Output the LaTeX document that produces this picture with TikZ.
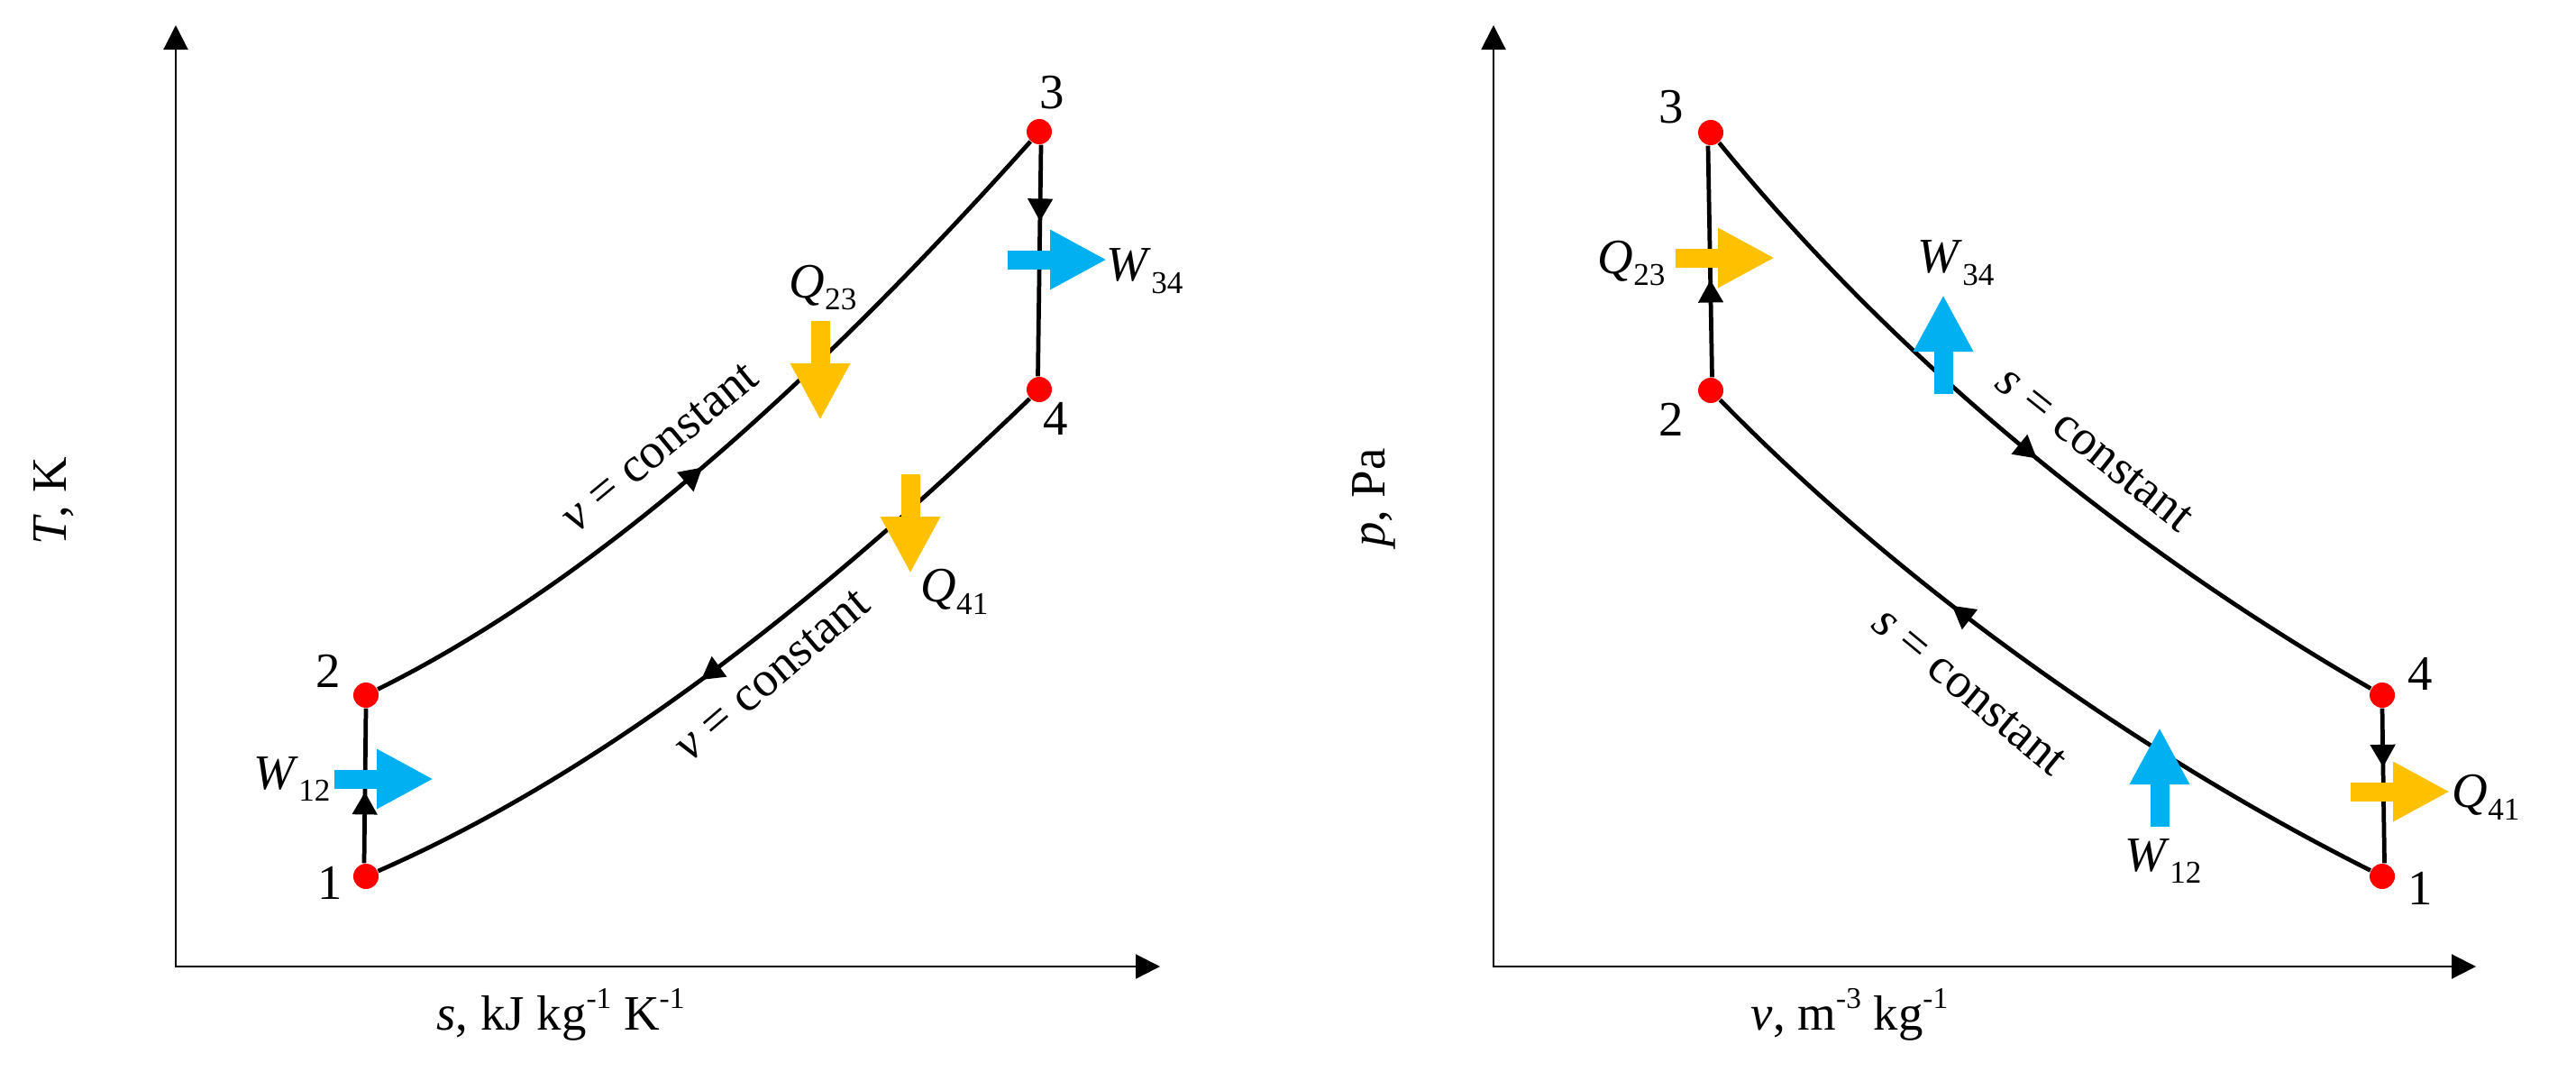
\documentclass[tikz,border=0pt]{standalone}
\usepackage{fontspec}
\setmainfont{Liberation Serif}
\usetikzlibrary{positioning,arrows.meta,decorations.markings}
\definecolor{workblue}{HTML}{00B0F0}
\definecolor{heatyellow}{HTML}{FFC000}
\newcommand{\subnum}[1]{\raisebox{-0.55ex}{\fontsize{10}{10}\selectfont #1}}
\newcommand{\supnum}[1]{\raisebox{0.95ex}{\fontsize{9.5}{10}\selectfont #1}}
\newcommand{\qty}[2]{\textit{#1}\subnum{#2}}
\begin{document}
\begin{tikzpicture}[on grid,
state/.style ={circle ,fill=red ,inner sep=0pt ,minimum width =0.28cm},
num/.style ={font=\fontsize{15.6}{18}\selectfont ,inner sep=0pt},
axis/.style ={line width=0.6pt ,{Triangle[length=0.27cm,width=0.27cm]}-{Triangle[length=0.27cm,width=0.27cm]}},
process/.style ={line width=1.35pt},
midarrow/.style ={postaction={decorate},decoration={markings,
 mark=at position #1 with {\arrow{Triangle[length=0.25cm,width=0.27cm]}}}},
flow/.style ={line width=0.21cm ,-{Triangle[length=0.63cm,width=0.62cm]}},
work/.style ={flow ,draw=workblue ,workblue},
heat/.style ={flow ,draw=heatyellow ,heatyellow}]
\useasboundingbox (0,0) rectangle (28.58,11.88);

% T-s diagram
\coordinate (Torigin) at (1.95,1.16);
\coordinate (Ttop) at (1.95,11.60);
\coordinate (Tright) at (12.87,1.16);
\draw[axis] (Ttop) -- (Torigin) -- (Tright);
\node[num] (Tlabel) [rotate=90] at (0.60,6.32) {\textit{T}, K};
\node[num] (slabel) at (6.22,0.63) {\textit{s}, kJ kg\supnum{-1} K\supnum{-1}};

\node[state] (A) at (4.06,2.16) {};
\node[state] (B) [above = 2.01cm of A] {};
\node[state] (C) [above right = 6.25cm and 7.47cm of B] {};
\node[state] (D) [below = 2.86cm of C] {};
\node[num] (A1) [below left = 0.07cm and 0.40cm of A] {1};
\node[num] (B1) [above left = 0.27cm and 0.42cm of B] {2};
\node[num] (C1) [above right = 0.43cm and 0.14cm of C] {3};
\node[num] (D1) [below right = 0.32cm and 0.18cm of D] {4};

\draw[process,midarrow=0.46] ([xshift=-0.02cm]A.north) -- (B.south);
\draw[process,midarrow=0.33] ([xshift=0.02cm]C.south) -- ([xshift=-0.015cm]D.north);
\draw[process,midarrow=0.46] (B) .. controls (6.50,5.38) and (8.90,7.48) .. (C);
\draw[process,midarrow=0.535] (D) .. controls (8.85,4.98) and (6.50,3.23) .. (A);

\node[num] (Bcon) [rotate=39.5] at (7.32,6.92) {\textit{v} = constant};
\node[num] (Acon) [rotate=40.5] at (8.57,4.39) {\textit{v} = constant};

\coordinate (W12a) at (3.71,3.24);
\coordinate (W12b) at (4.81,3.24);
\coordinate (W34a) at (11.18,9.00);
\coordinate (W34b) at (12.28,9.00);
\coordinate (Q23a) at (9.10,8.32);
\coordinate (Q23b) at (9.10,7.22);
\coordinate (Q41a) at (10.10,6.62);
\coordinate (Q41b) at (10.10,5.52);
\draw[work] (W12a) -- (W12b);
\draw[work] (W34a) -- (W34b);
\draw[heat] (Q23a) -- (Q23b);
\draw[heat] (Q41a) -- (Q41b);
\node[num] (W12) at (3.24,3.24) {\qty{W}{12}};
\node[num] (W34) at (12.70,8.87) {\qty{W}{34}};
\node[num] (Q23) at (9.13,8.69) {\qty{Q}{23}};
\node[num] (Q41) at (10.59,5.32) {\qty{Q}{41}};

% p-v diagram
\coordinate (Porigin) at (16.57,1.16);
\coordinate (Ptop) at (16.57,11.60);
\coordinate (Pright) at (27.47,1.16);
\draw[axis] (Ptop) -- (Porigin) -- (Pright);
\node[num] (plabel) [rotate=90] at (15.24,6.36) {\textit{p}, Pa};
\node[num] (vlabel) at (20.52,0.63) {\textit{v}, m\supnum{-3} kg\supnum{-1}};

\node[state] (E) at (26.43,2.16) {};
\node[state] (F) [above = 2.01cm of E] {};
\node[state] (G) at (18.98,10.41) {};
\node[state] (H) [below = 2.86cm of G] {};
\node[num] (E1) [below right = 0.13cm and 0.42cm of E] {1};
\node[num] (F1) [above right = 0.24cm and 0.42cm of F] {4};
\node[num] (G1) [above left = 0.28cm and 0.44cm of G] {3};
\node[num] (H1) [below left = 0.32cm and 0.44cm of H] {2};

\draw[process,midarrow=0.42] ([xshift=0.015cm]H.north) -- ([xshift=-0.03cm]G.south);
\draw[process,midarrow=0.38] (F.south) -- ([xshift=0.025cm]E.north);
\draw[process,midarrow=0.525] (G) .. controls (21.25,7.63) and (23.90,5.63) .. (F);
\draw[process,midarrow=0.615] (E) .. controls (24.00,3.38) and (21.30,5.18) .. (H);

\node[num] (Gcon) [rotate=-38.5] at (23.24,6.90) {\textit{s} = constant};
\node[num] (Econ) [rotate=-39.5] at (21.85,4.21) {\textit{s} = constant};

\coordinate (Q23c) at (18.59,9.02);
\coordinate (Q23d) at (19.69,9.02);
\coordinate (Q41c) at (26.08,3.10);
\coordinate (Q41d) at (27.18,3.10);
\coordinate (W34c) at (21.56,7.51);
\coordinate (W34d) at (21.56,8.61);
\coordinate (W12c) at (23.96,2.71);
\coordinate (W12d) at (23.96,3.81);
\draw[heat] (Q23c) -- (Q23d);
\draw[heat] (Q41c) -- (Q41d);
\draw[work] (W34c) -- (W34d);
\draw[work] (W12c) -- (W12d);
\node[num] (Qb23) at (18.10,8.96) {\qty{Q}{23}};
\node[num] (Qb41) at (27.58,3.04) {\qty{Q}{41}};
\node[num] (Wb34) at (21.70,8.96) {\qty{W}{34}};
\node[num] (Wb12) at (24.00,2.33) {\qty{W}{12}};
\end{tikzpicture}
\end{document}
